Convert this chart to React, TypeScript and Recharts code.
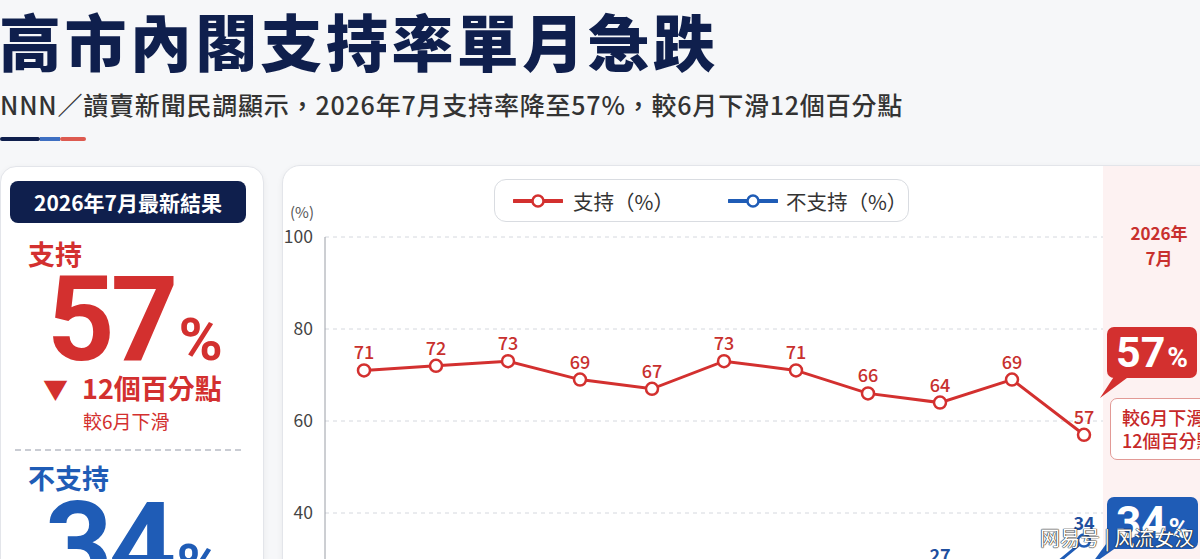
import { LineChart, Line, XAxis, YAxis, CartesianGrid, LabelList } from "recharts";

const months = [
  "2025年9月",
  "2025年10月",
  "2025年11月",
  "2025年12月",
  "2026年1月",
  "2026年2月",
  "2026年3月",
  "2026年4月",
  "2026年5月",
  "2026年6月",
  "2026年7月",
];
const support = [71, 72, 73, 69, 67, 73, 71, 66, 64, 69, 57];
const notSupport = [20, 19, 18, 22, 23, 18, 20, 23, 27, 21, 34];
const yTicks = [0, 20, 40, 60, 80, 100];

const data = months.map((month, i) => ({
  month,
  support: support[i],
  notSupport: notSupport[i],
}));

const RED = "#d3302f";
const BLUE = "#1f5cb6";
const NAVY = "#0f1f4d";
const FONT = '"Noto Sans CJK TC", "Noto Sans", sans-serif';

function LegendIcon({ color }: { color: string }) {
  return (
    <svg width={50} height={14} style={{ display: "block" }}>
      <line x1={1} y1={7} x2={49} y2={7} stroke={color} strokeWidth={4} strokeLinecap="round" />
      <circle cx={25} cy={7} r={5.5} fill="#fff" stroke={color} strokeWidth={2.5} />
    </svg>
  );
}

function BigNumber({ value, color }: { value: string; color: string }) {
  return (
    <div style={{ display: "flex", alignItems: "baseline", lineHeight: 1, color, fontFamily: "Roboto, sans-serif", fontWeight: 700 }}>
      <span style={{ fontSize: 118, letterSpacing: -4 }}>{value}</span>
      <span style={{ fontSize: 60, marginLeft: 4 }}>%</span>
    </div>
  );
}

export default function App() {
  return (
    <div
      style={{
        position: "absolute",
        left: 0,
        top: 0,
        width: 1200,
        height: 559,
        overflow: "hidden",
        background: "#f6f7f9",
        fontFamily: FONT,
      }}
    >
      {/* header */}
      <div style={{ position: "absolute", left: -1, top: 9, fontSize: 62, lineHeight: "62px", fontWeight: 900, color: NAVY, letterSpacing: 3.4, whiteSpace: "nowrap" }}>
        高市內閣支持率單月急跌
      </div>
      <div style={{ position: "absolute", left: 0, top: 92, fontSize: 25, lineHeight: "25px", fontWeight: 500, color: "#333", letterSpacing: 0.8, whiteSpace: "nowrap" }}>
        NNN／讀賣新聞民調顯示，2026年7月支持率降至57%，較6月下滑12個百分點
      </div>
      <div style={{ position: "absolute", left: 0, top: 137, width: 40, height: 4, background: NAVY, borderRadius: 2 }} />
      <div style={{ position: "absolute", left: 40, top: 137, width: 20, height: 4, background: "#3e6fc2" }} />
      <div style={{ position: "absolute", left: 60, top: 137, width: 26, height: 4, background: "#dd5a50", borderRadius: 2 }} />

      {/* left summary card */}
      <div style={{ position: "absolute", left: 0, top: 166, width: 262, height: 460, background: "#fff", border: "1px solid #e3e5ea", borderRadius: 16, boxShadow: "0 2px 6px rgba(0,0,0,0.06)" }} />
      <div style={{ position: "absolute", left: 10, top: 181, width: 236, height: 42, background: NAVY, borderRadius: 8, color: "#fff", fontSize: 21, fontWeight: 700, lineHeight: "42px", textAlign: "center" }}>
        2026年7月最新結果
      </div>
      <div style={{ position: "absolute", left: 28, top: 240, fontSize: 27, lineHeight: "27px", fontWeight: 700, color: RED }}>支持</div>
      <div style={{ position: "absolute", left: 47, top: 261 }}>
        <BigNumber value="57" color={RED} />
      </div>
      <div style={{ position: "absolute", left: 43, top: 376, fontSize: 25, lineHeight: "25px", color: RED }}>▼</div>
      <div style={{ position: "absolute", left: 82, top: 374, fontSize: 27, lineHeight: "27px", fontWeight: 700, color: RED, whiteSpace: "nowrap" }}>12個百分點</div>
      <div style={{ position: "absolute", left: 83, top: 411, fontSize: 19, lineHeight: "19px", color: RED, whiteSpace: "nowrap" }}>較6月下滑</div>
      <div style={{ position: "absolute", left: 15, top: 449, width: 226, borderTop: "2px dashed #c9ccd3" }} />
      <div style={{ position: "absolute", left: 28, top: 464, fontSize: 27, lineHeight: "27px", fontWeight: 700, color: BLUE }}>不支持</div>
      <div style={{ position: "absolute", left: 45, top: 487 }}>
        <BigNumber value="34" color={BLUE} />
      </div>

      {/* chart panel */}
      <div style={{ position: "absolute", left: 282, top: 165, width: 960, height: 620, background: "#fff", border: "1px solid #e3e5ea", borderRadius: 18, boxShadow: "0 2px 6px rgba(0,0,0,0.06)" }} />
      <div style={{ position: "absolute", left: 1103, top: 166, width: 120, height: 620, background: "#fdf2f2" }} />

      <div style={{ position: "absolute", left: 494, top: 179, width: 413, height: 41, border: "1px solid #d9dce1", borderRadius: 12, background: "#fff", display: "flex", alignItems: "center", color: "#333", fontSize: 20.5 }}>
        <div style={{ marginLeft: 18 }}><LegendIcon color={RED} /></div>
        <span style={{ marginLeft: 10 }}>支持（%）</span>
        <div style={{ marginLeft: 54 }}><LegendIcon color={BLUE} /></div>
        <span style={{ marginLeft: 8 }}>不支持（%）</span>
      </div>
      <div style={{ position: "absolute", left: 290, top: 204, fontSize: 15, lineHeight: "15px", color: "#555" }}>(%)</div>

      <div style={{ position: "absolute", left: 282, top: 165 }}>
        <LineChart width={918} height={600} data={data} margin={{ top: 72, right: 97, left: 3, bottom: 38 }}>
          <CartesianGrid vertical={false} stroke="#d5d8de" strokeDasharray="4 4" />
          <XAxis dataKey="month" padding={{ left: 39, right: 19 }} height={30} tickLine={false} stroke="#9a9ea6" tick={{ fill: "#444", fontSize: 15 }} />
          <YAxis
            width={40}
            domain={[0, 100]}
            ticks={yTicks}
            tickLine={false}
            tickMargin={6}
            stroke="#9a9ea6"
            tick={{ fill: "#444", fontSize: 17.5 }}
          />
          <Line
            type="linear"
            dataKey="support"
            stroke={RED}
            strokeWidth={3}
            dot={{ r: 6, fill: "#fff", stroke: RED, strokeWidth: 2.5 }}
            isAnimationActive={false}
          >
            <LabelList dataKey="support" position="top" offset={11} fill="#c8302e" fontSize={18} fontWeight={500} />
          </Line>
          <Line
            type="linear"
            dataKey="notSupport"
            stroke={BLUE}
            strokeWidth={3}
            dot={{ r: 6, fill: "#fff", stroke: BLUE, strokeWidth: 2.5 }}
            isAnimationActive={false}
          >
            <LabelList dataKey="notSupport" position="top" offset={11} fill="#1f4f9e" fontSize={18} fontWeight={700} />
          </Line>
        </LineChart>
      </div>

      {/* latest month callouts */}
      <div style={{ position: "absolute", left: 1103, top: 220, width: 112, textAlign: "center", fontSize: 17, lineHeight: "25px", fontWeight: 700, color: "#c8302e" }}>
        2026年
        <br />
        7月
      </div>
      <svg style={{ position: "absolute", left: 1095, top: 370 }} width={50} height={32}>
        <polygon points="22,2 40,2 5,28" fill={RED} />
      </svg>
      <div style={{ position: "absolute", left: 1107, top: 327, width: 90, height: 51, background: RED, borderRadius: 7, color: "#fff", fontWeight: 700, display: "flex", alignItems: "baseline", justifyContent: "center", lineHeight: "51px" }}>
        <span style={{ fontSize: 43, fontFamily: "Roboto, sans-serif" }}>57</span>
        <span style={{ fontSize: 28, marginLeft: 2, fontFamily: "Roboto, sans-serif" }}>%</span>
      </div>
      <div style={{ position: "absolute", left: 1110, top: 398, width: 100, height: 62, background: "#fff", border: "1.5px solid #e29a96", borderRadius: 7, color: "#c62828", fontSize: 18, lineHeight: "23px", fontWeight: 500, paddingTop: 7, paddingLeft: 11, boxSizing: "border-box", whiteSpace: "nowrap" }}>
        較6月下滑
        <br />
        12個百分點
      </div>
      <svg style={{ position: "absolute", left: 1085, top: 538 }} width={50} height={32}>
        <polygon points="24,2 42,2 5,28" fill={BLUE} />
      </svg>
      <div style={{ position: "absolute", left: 1107, top: 497, width: 91, height: 52, background: BLUE, borderRadius: 7, color: "#fff", fontWeight: 700, display: "flex", alignItems: "baseline", justifyContent: "center", lineHeight: "52px" }}>
        <span style={{ fontSize: 44, fontFamily: "Roboto, sans-serif" }}>34</span>
        <span style={{ fontSize: 28, marginLeft: 2, fontFamily: "Roboto, sans-serif" }}>%</span>
      </div>

      {/* watermark */}
      <div style={{ position: "absolute", left: 1040, top: 527, fontSize: 20, lineHeight: "22px", color: "#fff", textShadow: "0 0 1px #222, 0 0 1px #222, 0 0 1px #222", whiteSpace: "nowrap" }}>
        网易号 | 风流女汉
      </div>
    </div>
  );
}
